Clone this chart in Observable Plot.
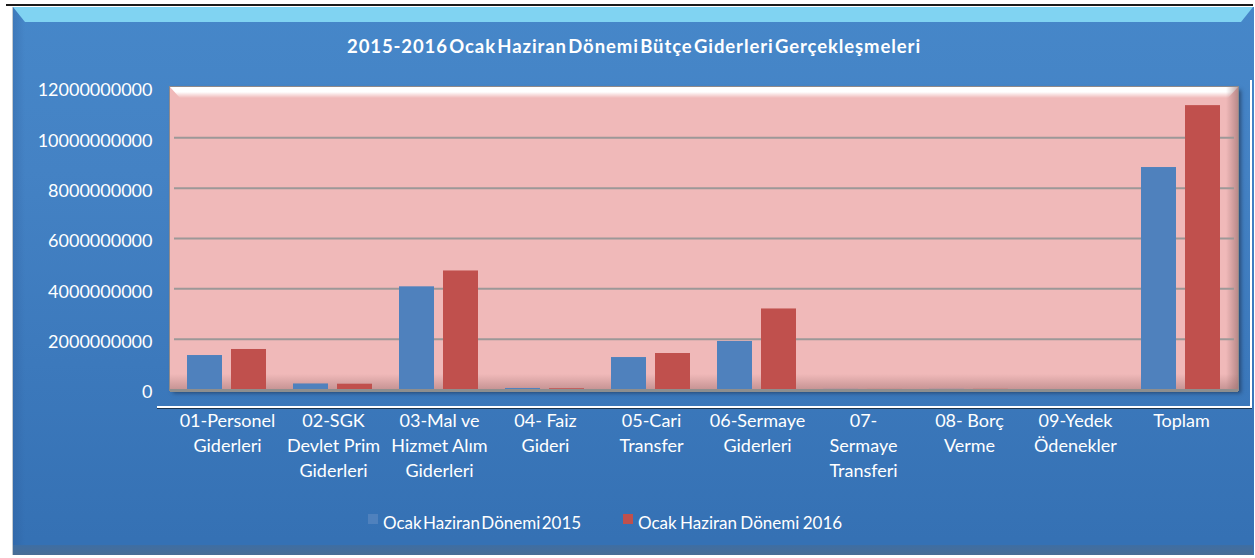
<!DOCTYPE html>
<html><head><meta charset="utf-8">
<script src="https://cdn.jsdelivr.net/npm/d3@7"></script>
<script src="https://cdn.jsdelivr.net/npm/@observablehq/plot@0.6"></script>
<style>
body{margin:0;background:#fff;font-family:Lato,"Open Sans",sans-serif;}
#wrap{position:relative;width:1255px;height:558px;overflow:hidden;background:#fff;}
.abs{position:absolute;}
#topline{left:6px;top:4px;width:1247px;height:2px;background:#1a1a1a;}
#box{left:12px;top:7px;width:1241px;height:548px;background:linear-gradient(to bottom,#4687c9 0%,#4482c4 30%,#3c79bc 65%,#3571b4 97%);border-left:1px solid #c3c9cf;}
#leftbevel{left:13px;top:7px;width:12px;height:548px;background:linear-gradient(to right,rgba(40,80,140,0.25),rgba(40,80,140,0));}
#bottomband{left:13px;top:545px;width:1240px;height:10px;background:linear-gradient(to bottom,#3e6ea3,#4a6d95);}
#band{left:13px;top:7px;width:1240px;height:15px;background:#80d3f2;clip-path:polygon(0 0,100% 0,calc(100% - 12px) 100%,12px 100%);}
#plotbg{left:170px;top:87px;width:1068px;height:303px;background:#f0b9b9;box-shadow:3px 3px 4px rgba(20,30,50,0.55);outline:1px solid #8f8a8a;}
#hl{left:170px;top:87px;width:1068px;height:11px;background:linear-gradient(to bottom,#ffffff 0%,#ffffff 45%,rgba(255,255,255,0) 100%);clip-path:polygon(0 0,100% 0,calc(100% - 10px) 100%,10px 100%);}
#rsh{left:1226px;top:87px;width:12px;height:303px;background:linear-gradient(to right,rgba(140,100,100,0),rgba(140,100,100,0.55));}
#bsh{left:170px;top:374px;width:1068px;height:15px;background:linear-gradient(to bottom,rgba(150,105,105,0),rgba(150,105,105,0.45));}
#base{left:170px;top:389px;width:1068px;height:3px;background:#8e8e8e;}
#wline{left:157px;top:406px;width:1095px;height:2px;background:#fff;border-bottom:1px solid #1d3550;}
#wvline{left:1250px;top:80px;width:2px;height:328px;background:#fff;}
#title{top:35px;color:#fff;font-weight:bold;font-size:18.5px;word-spacing:-4px;line-height:22px;white-space:nowrap;}
.leg{position:absolute;top:512px;color:#fff;font-size:17px;line-height:22px;white-space:nowrap;}
.sw{position:absolute;top:514px;width:10px;height:10px;}
#chart{position:absolute;left:0;top:0;}
</style>
</head><body>
<div id="wrap">
  <div class="abs" id="topline"></div>
  <div class="abs" id="box"></div>
  <div class="abs" id="leftbevel"></div>
  <div class="abs" id="bottomband"></div>
  <div class="abs" id="band"></div>
  <div class="abs" id="plotbg"></div>
  <div class="abs" id="hl"></div>
  <div class="abs" id="rsh"></div>
  <div class="abs" id="bsh"></div>
  <div class="abs" id="base"></div>
  <div class="abs" id="wline"></div>
  <div class="abs" id="wvline"></div>
  <div id="chart"></div>
  <div class="abs" id="title"></div>
  <div id="legend"></div>
</div>
<script>
const titleText = "2015-2016 Ocak Haziran Dönemi Bütçe Giderleri Gerçekleşmeleri";
const categories = ["01-Personel Giderleri","02-SGK Devlet Prim Giderleri","03-Mal ve Hizmet Alım Giderleri","04- Faiz Gideri","05-Cari Transfer","06-Sermaye Giderleri","07- Sermaye Transferi","08- Borç Verme","09-Yedek Ödenekler","Toplam"];
const categoryLabels = ["01-Personel\nGiderleri","02-SGK\nDevlet Prim\nGiderleri","03-Mal ve\nHizmet Alım\nGiderleri","04- Faiz\nGideri","05-Cari\nTransfer","06-Sermaye\nGiderleri","07-\nSermaye\nTransferi","08- Borç\nVerme","09-Yedek\nÖdenekler","Toplam"];
const series = ["Ocak Haziran Dönemi 2015","Ocak Haziran Dönemi 2016"];
const values2015 = [1350000000, 220000000, 4080000000, 40000000, 1270000000, 1910000000, 3000000, 4000000, 0, 8820000000];
const values2016 = [1590000000, 210000000, 4710000000, 30000000, 1430000000, 3200000000, 2000000, 5000000, 0, 11280000000];
const yTicks = [0, 2000000000, 4000000000, 6000000000, 8000000000, 10000000000, 12000000000];
const colors = ["#4f81bd", "#c0504d"];

// title: fit to the reference span (x 347..921)
const title = document.getElementById("title");
title.textContent = titleText;
const tw = title.getBoundingClientRect().width;
title.style.letterSpacing = ((574 - tw) / titleText.length) + "px";
title.style.left = "347px";

const data = categories.flatMap((c, i) => [
  {cat: c, s: series[0], v: values2015[i]},
  {cat: c, s: series[1], v: values2016[i]}
]);

const chart = Plot.plot({
  width: 1255, height: 558,
  marginLeft: 170, marginRight: 17, marginTop: 87, marginBottom: 169,
  style: {background: "transparent", fontFamily: "Lato, sans-serif", overflow: "visible"},
  fx: {domain: categories, paddingInner: 0, paddingOuter: 0, label: null, axis: null},
  x: {domain: series, paddingInner: 0.2, paddingOuter: 0.3, axis: null},
  y: {domain: [0, yTicks[yTicks.length - 1]], axis: null},
  color: {domain: series, range: colors},
  marks: [
    Plot.gridY({ticks: yTicks.slice(1, -1), stroke: "#9c9898", strokeOpacity: 1, strokeWidth: 2}),
    Plot.barY(data, {fx: "cat", x: "s", y: "v", fill: "s"}),
    Plot.axisY({ticks: yTicks, tickSize: 0, tickPadding: 22, fontSize: 18, fill: "white", tickFormat: d => String(d), dy: 3, label: null}),
    Plot.axisFx({anchor: "bottom", tickSize: 0, tickPadding: 20, fontSize: 18, lineHeight: 1.39, fill: "white", tickFormat: d => categoryLabels[categories.indexOf(d)], label: null})
  ]
});
document.getElementById("chart").appendChild(chart);

// legend from series/colors
const leg = document.getElementById("legend");
const legPos = [{sw: 368, tx: 383, ws: "-3px"}, {sw: 623, tx: 638, ws: "-1px"}];
series.forEach((s, i) => {
  const sw = document.createElement("div");
  sw.className = "sw"; sw.style.left = legPos[i].sw + "px"; sw.style.background = colors[i];
  const t = document.createElement("div");
  t.className = "leg"; t.style.left = legPos[i].tx + "px"; t.style.wordSpacing = legPos[i].ws;
  t.textContent = s;
  leg.appendChild(sw); leg.appendChild(t);
});
</script>
</body></html>
